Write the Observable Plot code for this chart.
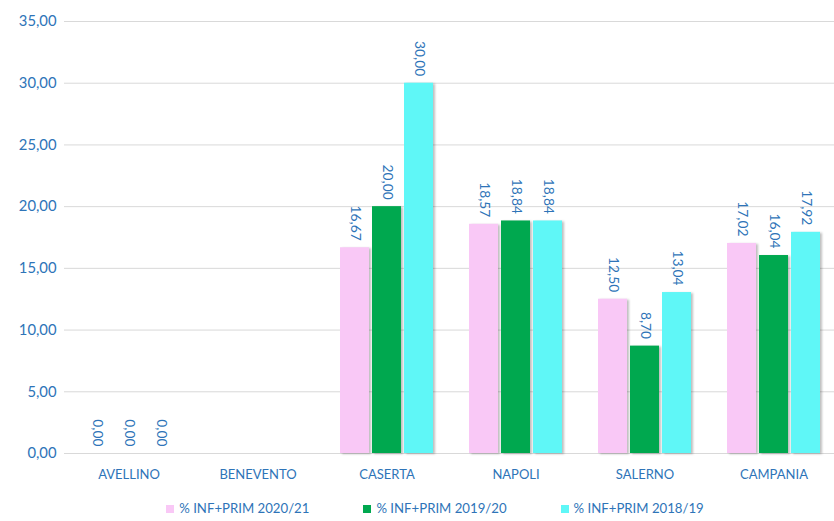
<!DOCTYPE html>
<html>
<head>
<meta charset="utf-8">
<script src="https://cdn.jsdelivr.net/npm/d3@7"></script>
<script src="https://cdn.jsdelivr.net/npm/@observablehq/plot@0.6"></script>
<style>
  body { margin: 0; background: #fff; font-family: Lato, "Open Sans", sans-serif; }
  #chart svg g[aria-label="bar"] rect { filter: drop-shadow(2px 1px 1px rgba(0,0,0,0.25)); }
  #chart svg g[aria-label="y-axis tick label"] text, #chart svg g[aria-label="y-axis"] text { font-size: 14.8px; }
  .legend { display: flex; justify-content: center; gap: 54px; font-size: 13.2px; color: #2e74b8; margin-top: 10px; padding-left: 36px; }
  .legend span.sw { display: inline-block; width: 8px; height: 8px; margin-right: 5px; }
</style>
</head>
<body>
<div id="chart"></div>
<script>
const categories = ["AVELLINO", "BENEVENTO", "CASERTA", "NAPOLI", "SALERNO", "CAMPANIA"];
const series = ["% INF+PRIM 2020/21", "% INF+PRIM 2019/20", "% INF+PRIM 2018/19"];
const colors = ["#f9c8f6", "#00a84f", "#5ff7f7"];
const values2021 = [0, null, 16.67, 18.57, 12.50, 17.02];
const values1920 = [0, null, 20.00, 18.84, 8.70, 16.04];
const values1819 = [0, null, 30.00, 18.84, 13.04, 17.92];
const yTicks = [0, 5, 10, 15, 20, 25, 30, 35];

const allValues = [values2021, values1920, values1819];
const data = [];
categories.forEach((c, i) => {
  series.forEach((s, j) => {
    data.push({category: c, series: s, value: allValues[j][i]});
  });
});
const hasValue = d => d.value != null;
const fmt = v => d3.format(".2f")(v).replace(".", ",");
const blue = "#2e74b8";

const chart = Plot.plot({
  width: 834,
  height: 490,
  marginTop: 21,
  marginLeft: 63,
  marginRight: -5,
  marginBottom: 37,
  style: {fontFamily: "Lato, 'Open Sans', sans-serif", fontSize: "13px", color: blue, background: "#fff", overflow: "visible"},
  fx: {domain: categories, axis: "bottom", label: null, tickSize: 0, tickPadding: 16, padding: 0},
  x: {domain: series, axis: null, paddingInner: 0.09, paddingOuter: 0.5},
  y: {domain: [0, 35], ticks: yTicks, tickFormat: fmt, tickSize: 0, tickPadding: 8, label: null, grid: false},
  color: {domain: series, range: colors},
  facet: {data, x: "category"},
  marks: [
    Plot.ruleY(yTicks, {stroke: "#d9d9d9", strokeWidth: 1}),
    Plot.barY(data, {filter: hasValue, x: "series", y: "value", fill: "series"}),
    Plot.text(data, {filter: hasValue, x: "series", y: "value", text: d => fmt(d.value), rotate: 90, textAnchor: "end", dy: -7, fill: blue, fontSize: 13.8})
  ]
});
document.getElementById("chart").appendChild(chart);

const legend = document.createElement("div");
legend.className = "legend";
series.forEach((s, i) => {
  const item = document.createElement("div");
  item.innerHTML = `<span class="sw" style="background:${colors[i]}"></span>${s}`;
  legend.appendChild(item);
});
document.body.appendChild(legend);
</script>
</body>
</html>
